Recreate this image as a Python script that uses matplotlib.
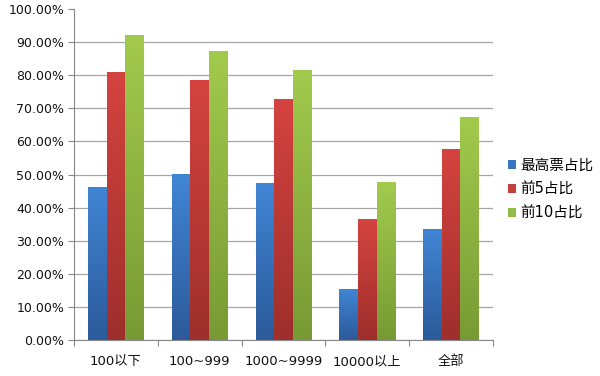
import numpy as np
import matplotlib
matplotlib.use('Agg')
import matplotlib.pyplot as plt
from matplotlib.colors import LinearSegmentedColormap
from matplotlib.ticker import PercentFormatter, FixedLocator

plt.rcParams['font.family'] = ['DejaVu Sans', 'Noto Sans CJK SC']

# data
categories = ['100以下', '100~999', '1000~9999', '10000以上', '全部']
series_names = ['最高票占比', '前5占比', '前10占比']
top1 = [0.462, 0.499, 0.473, 0.154, 0.333]
top5 = [0.807, 0.785, 0.728, 0.365, 0.575]
top10 = [0.919, 0.871, 0.813, 0.476, 0.673]
series = [top1, top5, top10]

# colours (top, bottom) for gradient fill
grads = [('#4085d4', '#2c5a9a'), ('#d4433f', '#9e2f2c'), ('#a2ca4d', '#789a34')]
legend_cols = ['#3a76c0', '#c4403c', '#93bb45']

fig = plt.figure(figsize=(6.0, 3.76), dpi=100)
ax = fig.add_axes([0.1233, 0.0957, 0.6984, 0.8803])

x = np.arange(len(categories))
w = 1 / 4.5
for k, vals in enumerate(series):
    bars = ax.bar(x + (k - 1) * w, vals, w, color=legend_cols[k],
                  label=series_names[k], zorder=2)
    cmap = LinearSegmentedColormap.from_list('g%d' % k, [grads[k][1], grads[k][0]])
    for b in bars:
        x0, y0 = b.get_x(), b.get_y()
        bw, bh = b.get_width(), b.get_height()
        b.set_facecolor('none')
        ax.imshow(np.linspace(0, 1, 100).reshape(-1, 1), cmap=cmap,
                  extent=(x0, x0 + bw, y0, y0 + bh), origin='lower',
                  aspect='auto', zorder=2)

ax.set_xlim(-0.5, len(categories) - 0.5)
ax.set_ylim(0, 1.0)
ax.set_yticks(np.arange(0, 1.01, 0.1))
ax.yaxis.set_major_formatter(PercentFormatter(1.0, decimals=2))
ax.set_xticks(x)
ax.set_xticklabels(categories)
ax.xaxis.set_minor_locator(FixedLocator(np.arange(-0.5, len(categories), 1)))
ax.tick_params(axis='x', which='major', length=0, pad=11, labelsize=9.5, colors='#111111')
ax.tick_params(axis='x', which='minor', length=4, color='#888888', width=0.8)
ax.tick_params(axis='y', length=4, color='#888888', width=0.8, labelsize=9,
               pad=3, labelcolor='#111111')

ax.yaxis.grid(True, color='#a6a6a6', linewidth=0.9, zorder=0)
ax.set_axisbelow(True)
ax.get_ygridlines()[-1].set_visible(False)
for s in ['top', 'right']:
    ax.spines[s].set_visible(False)
for s in ['left', 'bottom']:
    ax.spines[s].set_color('#888888')
    ax.spines[s].set_linewidth(0.8)

handles, labels = ax.get_legend_handles_labels()
for h, c in zip(handles, legend_cols):
    h[0].set_facecolor(c)
leg = ax.legend([h[0] for h in handles], labels, loc='center left',
                bbox_to_anchor=(1.035, 0.455), frameon=False, fontsize=10.5,
                handlelength=0.55, handleheight=0.55, handletextpad=0.3,
                labelspacing=0.62, borderaxespad=0, borderpad=0)

fig.savefig('out.png', dpi=100)
